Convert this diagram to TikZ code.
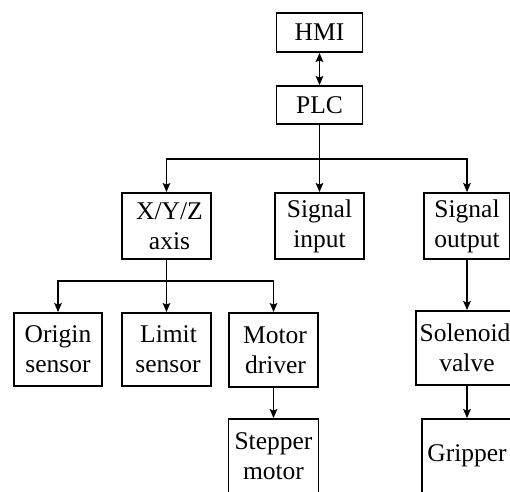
\documentclass[tikz,border=0pt]{standalone}
\usepackage{fontspec}
\setmainfont{Liberation Serif}
\usetikzlibrary{arrows.meta}
\tikzset{
  blk/.style={draw, line width=1.8pt, inner sep=0pt, align=center,
    font=\fontsize{25.5}{30}\selectfont},
  link/.style={line width=1.5pt},
  tip/.style={Stealth[length=9pt,width=7.5pt,inset=1.5pt]},
  arr/.style={link, -{Stealth[length=9pt,width=7.5pt,inset=1.5pt]}},
  biarr/.style={link, {Stealth[length=9pt,width=7.5pt,inset=1.5pt]}-{Stealth[length=9pt,width=7.5pt,inset=1.5pt]}}
}
\begin{document}
\begin{tikzpicture}[x=1pt,y=-1pt]
\useasboundingbox (0,0) rectangle (510,491);
\clip (0,0) rectangle (510,491);
\fill[white] (0,0) rectangle (510,491);

% control level
\node[blk, minimum width=86pt, minimum height=39pt] (hmi) at (319.5,32.5) {HMI};
\node[blk, minimum width=86pt, minimum height=38pt] (plc) at (319.5,105) {PLC};

% second level
\node[blk, minimum width=89pt, minimum height=66pt] (xyz) at (166.5,226) {\hspace*{6pt}X/Y/Z\\\hspace*{6pt}axis};
\node[blk, minimum width=89pt, minimum height=66pt] (sin) at (319.5,226) {Signal\\input};
\node[blk, minimum width=86pt, minimum height=66pt] (sout) at (467,226) {Signal\\output};

% axis components
\node[blk, minimum width=88pt, minimum height=73pt] (orig) at (58,349.5) {Origin\\sensor};
\node[blk, minimum width=89pt, minimum height=73pt] (lim) at (166.5,349.5) {\hspace*{4pt}Limit\\\hspace*{3pt}sensor};
\node[blk, minimum width=89pt, minimum height=74pt] (drv) at (273.5,350) {\hspace*{3pt}Motor\\\hspace*{4pt}driver};
\node[blk, minimum width=90pt, minimum height=74pt] (step) at (273.5,456) {Stepper\\motor};

% output components
\node[blk, minimum width=102pt, minimum height=74pt] (sol) at (467,348) {\hspace*{-4pt}Solenoid\\valve};
\node[blk, minimum width=90pt, minimum height=74pt] (grip) at (467,456) {Gripper};

% bus junctions
\coordinate (bus1) at (plc.south |- 0,159);
\coordinate (bus2) at (xyz.south |- 0,281);

% connectors
\draw[biarr] (hmi.south) -- (plc.north);
\draw[arr] (plc.south) -- (sin.north);
\draw[arr] (bus1) -| (xyz.north);
\draw[arr] (bus1) -| (sout.north);

\draw[arr] (xyz.south) -- (lim.north);
\draw[arr] (bus2) -| (orig.north);
\draw[arr] (bus2) -| (drv.north);
\draw[arr] (drv.south) -- (step.north);

\draw[arr] (sout.south) -- (sol.north);
\draw[arr] (sol.south) -- (grip.north);
\end{tikzpicture}
\end{document}
